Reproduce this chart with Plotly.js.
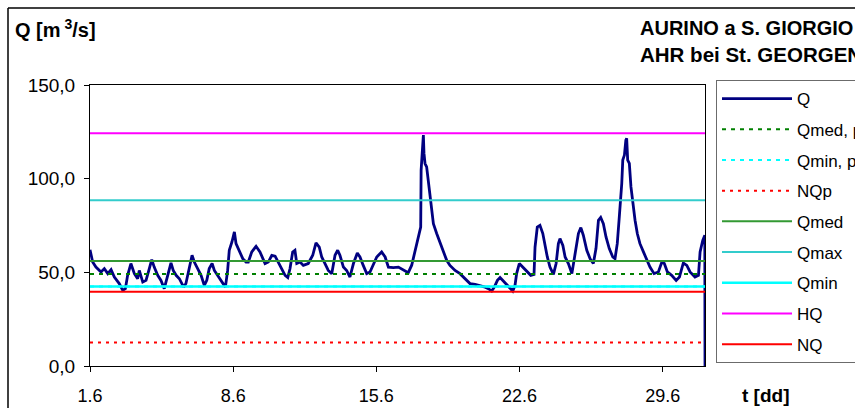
<!DOCTYPE html>
<html>
<head>
<meta charset="utf-8">
<script src="https://cdn.plot.ly/plotly-3.0.1.min.js"></script>
<style>
html,body{margin:0;padding:0;background:#fff;}
#chart{width:855px;height:408px;}
</style>
</head>
<body>
<div id="chart"></div>
<script>
// time in days since 1 June 00:00
const t = [0.00,0.13,0.29,0.54,0.70,0.87,1.03,1.19,1.43,1.60,1.73,1.84,2.00,2.17,2.33,2.41,2.58,2.74,2.90,3.02,
3.14,3.31,3.47,3.63,3.80,3.96,4.07,4.21,4.37,4.58,4.69,4.86,4.99,5.10,5.27,5.43,5.59,5.71,5.83,5.97,
6.08,6.24,6.41,6.62,6.73,6.81,6.94,7.06,7.14,7.30,7.47,7.63,7.74,7.91,8.12,8.31,8.56,8.72,8.89,9.05,
9.21,9.37,9.54,9.67,9.78,9.91,10.02,10.11,10.27,10.43,10.67,10.89,11.05,11.21,11.33,11.49,11.65,11.82,11.98,12.11,
12.22,12.39,12.55,12.71,12.88,13.07,13.20,13.36,13.53,13.69,13.85,14.02,14.26,14.43,14.59,14.83,15.08,15.32,15.56,15.73,
15.94,16.05,16.17,16.19,16.26,16.30,16.33,16.38,16.46,16.54,16.63,16.71,16.79,16.95,17.11,17.28,17.44,17.60,17.85,18.09,
18.34,18.58,18.83,19.07,19.32,19.48,19.64,19.77,19.92,20.05,20.21,20.38,20.54,20.67,20.78,20.86,20.99,21.16,21.35,21.55,
21.71,21.76,21.87,22.00,22.14,22.25,22.36,22.49,22.66,22.79,22.90,22.98,23.12,23.23,23.39,23.56,23.72,23.88,24.00,24.12,
24.29,24.45,24.61,24.74,24.86,24.97,25.10,25.23,25.39,25.56,25.67,25.78,25.88,25.95,26.00,26.05,26.13,26.20,26.24,26.29,
26.37,26.45,26.54,26.65,26.76,26.89,27.06,27.22,27.38,27.58,27.79,27.96,28.08,28.23,28.44,28.66,28.82,29.01,29.18,29.34,
29.58,29.75,29.83,29.96,30.06,30.07];
// discharge Q [m3/s]
const q = [62.1,55.5,52.8,50.2,52.0,49.3,51.4,47.5,44.0,40.4,41.3,48.4,54.7,49.3,46.6,51.0,44.8,45.7,52.0,56.8,
52.8,48.4,45.7,41.3,48.4,55.0,51.0,48.4,46.6,42.1,44.0,52.8,59.1,55.5,52.0,48.4,43.0,45.7,52.0,54.7,
51.0,48.4,45.7,42.1,51.0,61.8,66.2,71.6,65.3,60.9,57.3,55.5,55.5,60.9,63.9,60.9,54.7,55.5,59.1,58.6,
55.5,52.0,48.4,47.2,52.0,60.9,61.8,54.7,55.5,53.7,54.7,59.1,65.7,63.5,58.2,54.7,51.0,49.3,59.1,61.8,
59.1,52.8,51.0,47.5,54.7,60.3,58.2,53.7,49.3,50.2,53.7,58.2,60.9,58.2,52.8,52.5,52.8,51.4,49.8,53.8,
63.5,68.9,74.2,104.5,113.5,123.3,113.5,108.1,106.3,99.2,88.5,83.2,76.0,70.7,66.2,61.8,56.4,53.7,51.0,49.3,
46.6,44.0,43.6,43.0,42.1,41.3,40.0,42.1,45.7,47.2,45.3,43.0,41.3,40.0,43.0,49.3,54.7,52.8,50.2,48.4,
48.9,63.5,74.2,75.1,70.7,63.5,58.2,52.8,48.9,54.7,65.3,68.0,64.4,58.2,54.7,49.3,60.0,70.7,73.9,69.8,
61.8,57.3,54.7,62.7,77.8,79.3,76.0,68.9,62.7,58.2,57.3,65.3,79.6,89.4,97.4,109.9,112.6,120.6,121.5,109.9,
108.1,95.6,86.7,77.8,70.7,65.3,60.9,56.4,52.8,49.3,50.2,55.5,54.7,50.2,48.4,45.7,47.5,55.0,53.7,50.2,
47.5,48.4,60.9,67.1,69.8,0];

// reference levels
const levelNames  = ["Qmed, p","Qmin, p","NQp","Qmed","Qmax","Qmin","HQ","NQ"];
const levelValues = [49.1, 42.5, 12.6, 56.0, 88.5, 42.5, 124.2, 39.7];

const xTickVals = [0, 7, 14, 21, 28];
const xTickText = ["1.6","8.6","15.6","22.6","29.6"];
const yTickVals = [0, 50, 100, 150];
const yTickText = ["0,0","50,0","100,0","150,0"];

const xEnd = 30.07;

const levelStyles = [
  {color:"#008000", dash:"4px,5px", width:2},
  {color:"#00FFFF", dash:"4px,5px", width:2},
  {color:"#FF0000", dash:"3px,5px", width:2},
  {color:"#339933", dash:"solid", width:2},
  {color:"#33CCCC", dash:"solid", width:2},
  {color:"#00FFFF", dash:"solid", width:2.5},
  {color:"#FF00FF", dash:"solid", width:2},
  {color:"#FF0000", dash:"solid", width:2}
];

const FONT = "Liberation Sans, Arial, sans-serif";

const traces = [{
  x: t, y: q, type: "scatter", mode: "lines", name: "Q",
  legendgroup: "g0",
  line: {color: "#000080", width: 2.8}
}];
levelNames.forEach((n, i) => {
  traces.push({
    x: [0, xEnd], y: [levelValues[i], levelValues[i]],
    type: "scatter", mode: "lines", name: n, legendgroup: "g" + (i + 1),
    line: levelStyles[i]
  });
});

const L = 90, R = 150, T = 85, B = 42;
const W = 855, H = 408;
const pw = W - L - R, ph = H - T - B;
const px = v => (v - L) / pw;
const py = v => (H - B - v) / ph;

const layout = {
  width: W, height: H,
  margin: {l: L, r: R, t: T, b: B, autoexpand: false},
  paper_bgcolor: "#fff", plot_bgcolor: "#fff",
  font: {family: FONT, size: 18, color: "#000"},
  showlegend: true,
  legend: {
    x: px(716), xanchor: "left", y: py(80), yanchor: "top",
    bordercolor: "#6b6b6b", borderwidth: 1, bgcolor: "#fff",
    font: {family: FONT, size: 17, color: "#000"},
    itemwidth: 70, tracegroupgap: 5.6, traceorder: "grouped",
    maxheight: 400
  },
  xaxis: {
    range: [0, xEnd], tickmode: "array", tickvals: xTickVals, ticktext: xTickText,
    showgrid: false, zeroline: false, showline: true, linecolor: "#000", linewidth: 1,
    mirror: true, ticks: "outside", ticklen: 5, tickcolor: "#000",
    ticklabelstandoff: 8, tickfont: {family: FONT, size: 18}
  },
  yaxis: {
    range: [0, 150], tickmode: "array", tickvals: yTickVals, ticktext: yTickText,
    showgrid: false, zeroline: false, showline: true, linecolor: "#000", linewidth: 1,
    mirror: true, ticks: "outside", ticklen: 5, tickcolor: "#000",
    ticklabelstandoff: 5, tickfont: {family: FONT, size: 19}
  },
  annotations: [
    {text: "<b>Q [m<sup> 3</sup>/s]</b>", xref: "paper", yref: "paper", x: px(13), y: py(28),
     xanchor: "left", yanchor: "middle", showarrow: false, font: {family: FONT, size: 20}},
    {text: "<b>AURINO a S. GIORGIO</b>", xref: "paper", yref: "paper", x: px(855), y: py(28),
     xanchor: "right", yanchor: "middle", showarrow: false, font: {family: FONT, size: 20}},
    {text: "<b>AHR bei St. GEORGEN</b>", xref: "paper", yref: "paper", x: px(864), y: py(55),
     xanchor: "right", yanchor: "middle", showarrow: false, font: {family: FONT, size: 20.5}},
    {text: "<b>t [dd]</b>", xref: "paper", yref: "paper", x: px(765), y: py(395),
     xanchor: "center", yanchor: "middle", showarrow: false, font: {family: FONT, size: 19}}
  ],
  shapes: [
    {type: "line", xref: "paper", yref: "paper", x0: px(8), x1: px(870), y0: py(8), y1: py(8),
     line: {color: "#000", width: 1.5}},
    {type: "line", xref: "paper", yref: "paper", x0: px(8), x1: px(8), y0: py(8), y1: py(420),
     line: {color: "#000", width: 1.5}}
  ]
};

Plotly.newPlot("chart", traces, layout, {displayModeBar: false, staticPlot: true});
</script>
</body>
</html>
